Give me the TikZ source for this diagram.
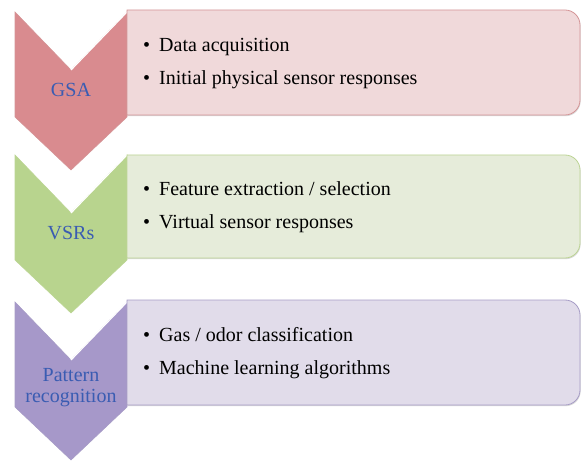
\documentclass[tikz,border=0pt]{standalone}
\usepackage{fontspec}
\setmainfont{Liberation Serif}
\usetikzlibrary{shadows}
\definecolor{gsadark}{RGB}{217,139,143}
\definecolor{gsalight}{RGB}{240,217,218}
\definecolor{gsaline}{RGB}{212,148,150}
\definecolor{vsrdark}{RGB}{184,212,142}
\definecolor{vsrlight}{RGB}{230,236,218}
\definecolor{vsrline}{RGB}{188,212,148}
\definecolor{patdark}{RGB}{166,152,201}
\definecolor{patlight}{RGB}{225,220,234}
\definecolor{patline}{RGB}{166,156,198}
\definecolor{labelblue}{RGB}{58,92,178}
\begin{document}
\begin{tikzpicture}[x=1pt,y=-1pt,
    chevron/.style={line width=0.6pt},
    panel/.style={line width=0.8pt,
      drop shadow={shadow xshift=0.6pt,shadow yshift=-1.2pt,opacity=0.3}},
    bevel/.style={white,line width=1.2pt},
    stage/.style={text=labelblue,align=center,
      font=\fontsize{20}{21}\selectfont},
    items/.style={anchor=west,align=left,inner sep=0pt,
      font=\fontsize{20}{33}\selectfont}]
      \useasboundingbox (0,0) rectangle (583,462);
      % first stage
      \filldraw[chevron,fill=gsadark,draw=gsaline]
        (15,12) -- (71,70) -- (127,12) -- (127,117) -- (71,170) -- (15,117) -- cycle;
      \draw[bevel] (71,70) -- (127,12);
      \filldraw[panel,fill=gsalight,draw=gsaline]
        (127,10) -- (565,10) arc[start angle=-90,end angle=0,radius=15]
        -- (580,100) arc[start angle=0,end angle=90,radius=15] -- (127,115) -- cycle;
      \node[stage] (gsa) at (71,90) {GSA};
      \node[items] (gsalist) at (143,63.5)
        {\textbullet\hspace{9pt}Data acquisition\\
         \textbullet\hspace{9pt}Initial physical sensor responses};
      % second stage
      \filldraw[chevron,fill=vsrdark,draw=vsrline]
        (15,155) -- (71,213) -- (127,155) -- (127,260) -- (71,313) -- (15,260) -- cycle;
      \draw[bevel] (71,213) -- (127,155);
      \filldraw[panel,fill=vsrlight,draw=vsrline]
        (127,155) -- (565,155) arc[start angle=-90,end angle=0,radius=15]
        -- (580,243) arc[start angle=0,end angle=90,radius=15] -- (127,258) -- cycle;
      \node[stage] (vsr) at (71,233) {VSRs};
      \node[items] (vsrlist) at (143,207.5)
        {\textbullet\hspace{9pt}Feature extraction / selection\\
         \textbullet\hspace{9pt}Virtual sensor responses};
      % third stage
      \filldraw[chevron,fill=patdark,draw=patline]
        (15,302) -- (71,360) -- (127,302) -- (127,407) -- (71,460) -- (15,407) -- cycle;
      \draw[bevel] (71,360) -- (127,302);
      \filldraw[panel,fill=patlight,draw=patline]
        (127,300) -- (565,300) arc[start angle=-90,end angle=0,radius=15]
        -- (580,390) arc[start angle=0,end angle=90,radius=15] -- (127,405) -- cycle;
      \node[stage] (pat) at (71,388) {Pattern\\recognition};
      \node[items] (patlist) at (143,353.5)
        {\textbullet\hspace{9pt}Gas / odor classification\\
         \textbullet\hspace{9pt}Machine learning algorithms};
    \end{tikzpicture}
\end{document}
